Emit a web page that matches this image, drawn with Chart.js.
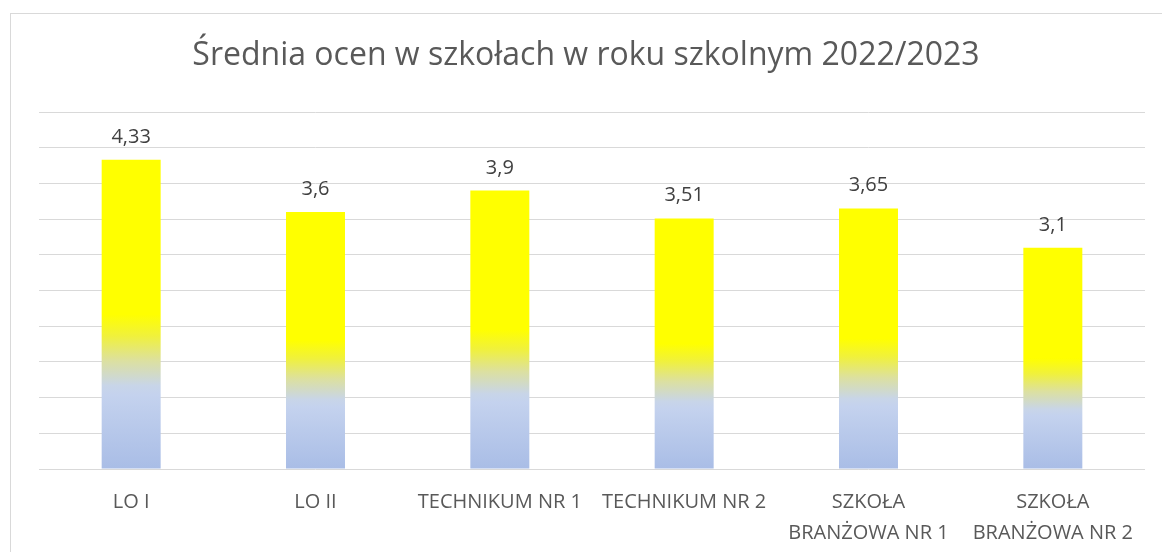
<!DOCTYPE html>
<html>
<head>
<meta charset="utf-8">
<script src="https://cdn.jsdelivr.net/npm/chart.js@4.4.1/dist/chart.umd.min.js"></script>
<style>
  html, body { margin: 0; padding: 0; background: #ffffff; overflow: hidden; }
  #wrap { position: relative; width: 1162px; height: 552px; }
  canvas { display: block; }
</style>
</head>
<body>
<div id="wrap"><canvas id="c" width="1162" height="552"></canvas></div>
<script>
const titleText = 'Średnia ocen w szkołach w roku szkolnym 2022/2023';
const categories = [
  'LO I',
  'LO II',
  'TECHNIKUM NR 1',
  'TECHNIKUM NR 2',
  ['SZKOŁA', 'BRANŻOWA NR 1'],
  ['SZKOŁA', 'BRANŻOWA NR 2']
];
const averages = [4.33, 3.6, 3.9, 3.51, 3.65, 3.1];
const valueLabels = ['4,33', '3,6', '3,9', '3,51', '3,65', '3,1'];
const yMin = 0;
const yMax = 5;
const yStep = 0.5;

const FONT = "'Open Sans', 'Noto Sans', sans-serif";

const framePlugin = {
  id: 'frame',
  beforeDraw(chart) {
    const c = chart.ctx;
    c.save();
    c.fillStyle = '#ffffff';
    c.fillRect(0, 0, chart.width, chart.height);
    c.strokeStyle = '#D9D9D9';
    c.lineWidth = 1;
    c.strokeRect(10.5, 13.5, 1170, 600);
    c.restore();
  },
  afterDraw(chart) {
    const c = chart.ctx;
    c.save();
    c.fillStyle = '#595959';
    c.font = '400 32px ' + FONT;
    c.textAlign = 'center';
    c.textBaseline = 'alphabetic';
    c.fillText(titleText, 586, 65);
    // data labels
    const meta = chart.getDatasetMeta(0);
    c.fillStyle = '#404040';
    c.font = '20px ' + FONT;
    meta.data.forEach((bar, i) => {
      c.fillText(valueLabels[i], bar.x, bar.y - 17);
    });
    c.restore();
  }
};

function barGradient(ctx) {
  const chart = ctx.chart;
  if (!chart.chartArea || ctx.type !== 'data') return '#FFFF00';
  const ys = chart.scales.y;
  const top = ys.getPixelForValue(ctx.raw);
  const bottom = ys.getPixelForValue(0);
  const g = chart.ctx.createLinearGradient(0, bottom, 0, top);
  g.addColorStop(0, '#A9BDE6');
  g.addColorStop(0.24, '#C4D2EE');
  g.addColorStop(0.27, '#C8D5E8');
  g.addColorStop(0.35, '#DCE0A0');
  g.addColorStop(0.43, '#F0F13C');
  g.addColorStop(0.5, '#FFFF00');
  g.addColorStop(1, '#FFFF00');
  return g;
}

new Chart(document.getElementById('c'), {
  type: 'bar',
  data: {
    labels: categories,
    datasets: [{
      data: averages,
      backgroundColor: barGradient,
      borderWidth: 0,
      barPercentage: 0.32,
      categoryPercentage: 1.0
    }]
  },
  options: {
    responsive: false,
    animation: false,
    devicePixelRatio: 1,
    layout: { padding: { left: 39, right: 17, top: 112, bottom: 0 } },
    plugins: {
      legend: { display: false },
      title: { display: false },
      tooltip: { enabled: false }
    },
    scales: {
      x: {
        grid: { display: false, drawTicks: false },
        border: { display: false },
        ticks: {
          color: '#595959',
          font: { family: FONT, size: 20, lineHeight: 1.55 },
          padding: 18,
          autoSkip: false,
          maxRotation: 0,
          minRotation: 0
        },
        afterFit(s) { s.height = 83; }
      },
      y: {
        min: yMin,
        max: yMax,
        ticks: { display: false, stepSize: yStep },
        grid: { color: '#D9D9D9', lineWidth: 1, drawTicks: false },
        border: { display: false },
        afterFit(s) { s.width = 0; }
      }
    }
  },
  plugins: [framePlugin]
});
</script>
</body>
</html>
